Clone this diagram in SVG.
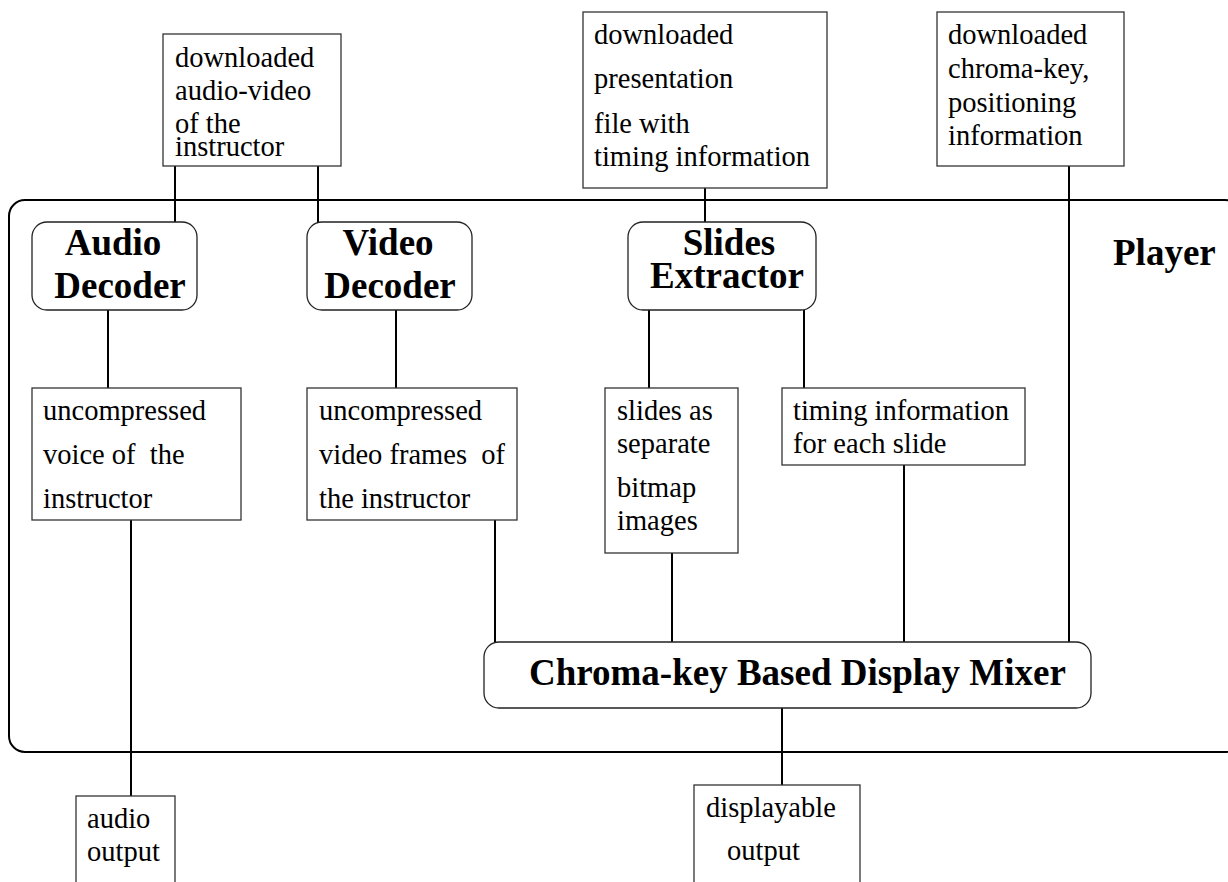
<svg xmlns="http://www.w3.org/2000/svg" width="1228" height="882" viewBox="0 0 1228 882">
<style>
.box{fill:#fff;stroke:#333;stroke-width:1.3}
.rbox{fill:#fff;stroke:#222;stroke-width:1.3}
.t{font-family:"Liberation Serif","Times New Roman",serif;font-size:28.5px;fill:#000;white-space:pre}
.b{font-family:"Liberation Serif","Times New Roman",serif;font-size:37px;font-weight:bold;fill:#000}
.c line{stroke:#000;stroke-width:2}
</style>
<rect width="1228" height="882" fill="#fff"/>
<g id="player">
<rect x="9" y="200" width="1232" height="552" rx="16" ry="16" fill="none" stroke="#000" stroke-width="2"/>
<text class="b" x="1113" y="265">Player</text>
</g>
<g class="c" id="connectors">
<line x1="175" y1="166" x2="175" y2="222"/>
<line x1="318" y1="166" x2="318" y2="222"/>
<line x1="705" y1="188" x2="705" y2="222"/>
<line x1="1069" y1="166" x2="1069" y2="642"/>
<line x1="108" y1="310" x2="108" y2="388"/>
<line x1="396" y1="310" x2="396" y2="388"/>
<line x1="649" y1="310" x2="649" y2="388"/>
<line x1="804" y1="310" x2="804" y2="388"/>
<line x1="131" y1="520" x2="131" y2="796"/>
<line x1="495" y1="520" x2="495" y2="642"/>
<line x1="672" y1="553" x2="672" y2="642"/>
<line x1="904" y1="465" x2="904" y2="642"/>
<line x1="782" y1="708" x2="782" y2="785"/>
</g>
<g id="dl-av">
<rect class="box" x="163" y="34" width="178" height="132"/>
<text class="t" x="175" y="67">downloaded</text>
<text class="t" x="175" y="100">audio-video</text>
<text class="t" x="175" y="133">of the</text>
<text class="t" x="175" y="156">instructor</text>
</g>
<g id="dl-pres">
<rect class="box" x="583" y="12" width="244" height="176"/>
<text class="t" x="594" y="44">downloaded</text>
<text class="t" x="594" y="88">presentation</text>
<text class="t" x="594" y="133">file with</text>
<text class="t" x="594" y="166">timing information</text>
</g>
<g id="dl-chroma">
<rect class="box" x="937" y="12" width="187" height="154"/>
<text class="t" x="948" y="44">downloaded</text>
<text class="t" x="948" y="78">chroma-key,</text>
<text class="t" x="948" y="112">positioning</text>
<text class="t" x="948" y="145">information</text>
</g>
<g id="audio-decoder">
<rect class="rbox" x="32" y="222" width="165" height="88" rx="15" ry="15"/>
<text class="b" x="113" y="255" text-anchor="middle">Audio</text>
<text class="b" x="120" y="298" text-anchor="middle">Decoder</text>
</g>
<g id="video-decoder">
<rect class="rbox" x="307" y="222" width="165" height="88" rx="15" ry="15"/>
<text class="b" x="388" y="255" text-anchor="middle">Video</text>
<text class="b" x="390" y="298" text-anchor="middle">Decoder</text>
</g>
<g id="slides-extractor">
<rect class="rbox" x="628" y="222" width="188" height="88" rx="15" ry="15"/>
<text class="b" x="729" y="255" text-anchor="middle">Slides</text>
<text class="b" x="727" y="288" text-anchor="middle">Extractor</text>
</g>
<g id="voice">
<rect class="box" x="32" y="388" width="209" height="132"/>
<text class="t" x="43" y="420">uncompressed</text>
<text class="t" x="43" y="464">voice of  the</text>
<text class="t" x="43" y="508">instructor</text>
</g>
<g id="frames">
<rect class="box" x="307" y="388" width="210" height="132"/>
<text class="t" x="319" y="420">uncompressed</text>
<text class="t" x="319" y="464">video frames  of</text>
<text class="t" x="319" y="508">the instructor</text>
</g>
<g id="slides-bitmaps">
<rect class="box" x="605" y="388" width="133" height="165"/>
<text class="t" x="617" y="420">slides as</text>
<text class="t" x="617" y="453">separate</text>
<text class="t" x="617" y="497">bitmap</text>
<text class="t" x="617" y="530">images</text>
</g>
<g id="timing">
<rect class="box" x="782" y="388" width="243" height="77"/>
<text class="t" x="793" y="420">timing information</text>
<text class="t" x="793" y="453">for each slide</text>
</g>
<g id="mixer">
<rect class="rbox" x="484" y="642" width="607" height="66" rx="15" ry="15"/>
<text class="b" x="529" y="685">Chroma-key Based Display Mixer</text>
</g>
<g id="audio-output">
<rect class="box" x="76" y="796" width="99" height="100"/>
<text class="t" x="87" y="828">audio</text>
<text class="t" x="87" y="861">output</text>
</g>
<g id="display-output">
<rect class="box" x="694" y="785" width="166" height="110"/>
<text class="t" x="706" y="817">displayable</text>
<text class="t" x="727" y="860">output</text>
</g>
</svg>
